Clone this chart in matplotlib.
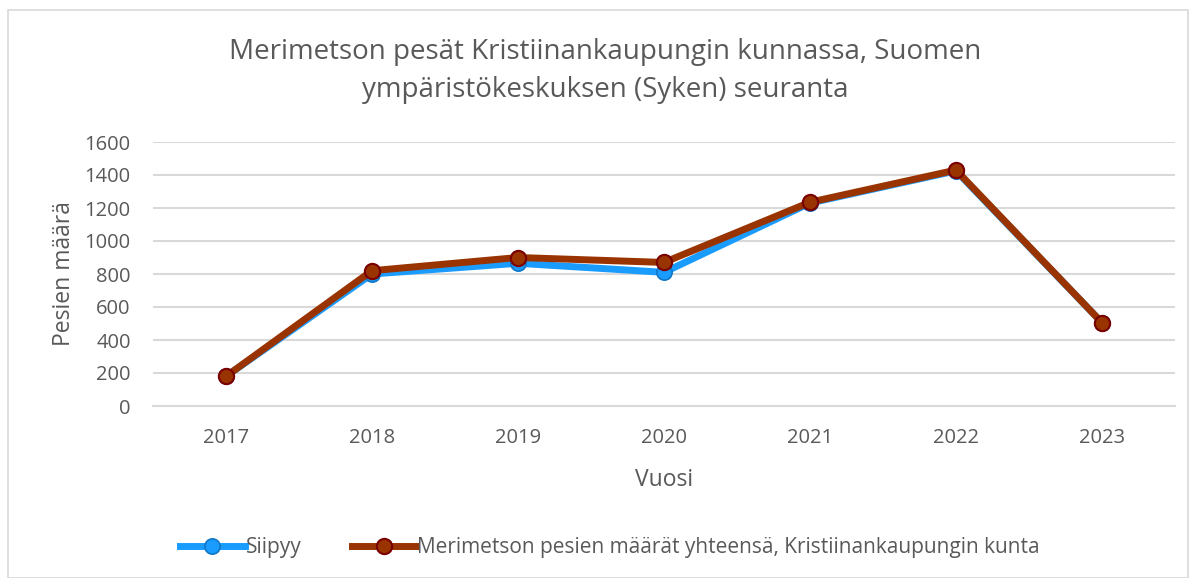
import matplotlib.pyplot as plt
from matplotlib.patches import Rectangle

years = ['2017', '2018', '2019', '2020', '2021', '2022', '2023']
siipyy = [180, 800, 865, 810, 1230, 1425, 505]
total = [180, 820, 900, 870, 1235, 1430, 505]

TXT = '#595959'
plt.rcParams['font.family'] = ['Open Sans', 'DejaVu Sans']

fig = plt.figure(figsize=(11.95, 5.78), dpi=100)
ax = fig.add_axes([153 / 1195, 1 - 406 / 578, 1022 / 1195, 264 / 578])

x = list(range(len(years)))
ax.plot(x, siipyy, color='#1a9cff', lw=5, marker='o', ms=11,
        mfc='#1a9cff', mec='#0f77c8', mew=1.2, label='Siipyy', zorder=3)
ax.plot(x, total, color='#993300', lw=5, marker='o', ms=11,
        mfc='#993300', mec='#7a0000', mew=1.5,
        label='Merimetson pesien määrät yhteensä, Kristiinankaupungin kunta',
        zorder=4)

ax.set_xlim(-0.5, 6.5)
ax.set_ylim(0, 1600)
ax.set_yticks(range(0, 1601, 200))
ax.set_xticks(x)
ax.set_xticklabels(years)
ax.grid(axis='y', color='#d9d9d9', lw=1.5)
ax.set_axisbelow(True)
for s in ['top', 'right', 'left']:
    ax.spines[s].set_visible(False)
ax.spines['bottom'].set_color('#d9d9d9')
ax.spines['bottom'].set_linewidth(1.5)
ax.tick_params(length=0, labelsize=14.5, labelcolor=TXT)
ax.tick_params(axis='x', pad=16)
ax.tick_params(axis='y', pad=16)

ax.set_xlabel('Vuosi', fontsize=16.5, color=TXT, labelpad=14)
ax.set_ylabel('Pesien määrä', fontsize=16.5, color=TXT, labelpad=6)

fig.text(605 / 1195, 1 - 71 / 578,
         'Merimetson pesät Kristiinankaupungin kunnassa, Suomen\n'
         'ympäristökeskuksen (Syken) seuranta',
         ha='center', va='center', fontsize=20, color=TXT, linespacing=1.5)

fig.legend(loc='center', bbox_to_anchor=(610 / 1195, 1 - 548 / 578), ncol=2,
           frameon=False, fontsize=15, handlelength=3.1, handletextpad=0.05,
           columnspacing=2.4, labelcolor=TXT)

fig.patches.append(Rectangle((8 / 1195, 0), 1180 / 1195, 1 - 10 / 578,
                             transform=fig.transFigure, fill=False,
                             ec='#d9d9d9', lw=1.2))

fig.savefig('out.png', dpi=100)
